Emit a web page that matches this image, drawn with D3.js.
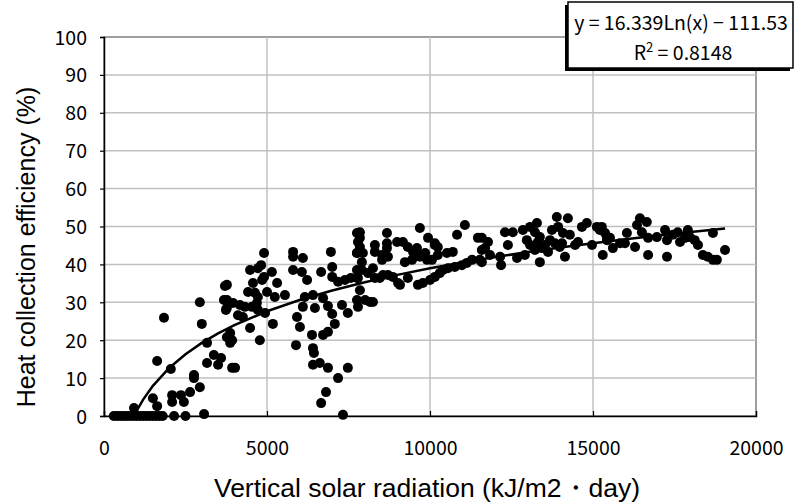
<!DOCTYPE html>
<html>
<head>
<meta charset="utf-8">
<script src="https://d3js.org/d3.v7.min.js"></script>
<style>
  body { margin: 0; background: #fff; }
  .tick-label { font-family: "Noto Sans CJK JP", "Liberation Sans", sans-serif; font-size: 19.5px; fill: #000; }
  .title { font-family: "Liberation Sans", Arial, sans-serif; font-size: 25px; fill: #000; }
  .legend-text { font-family: "Noto Sans CJK JP", "Liberation Sans", sans-serif; font-size: 19.5px; fill: #000; }
</style>
</head>
<body>
<svg id="chart" width="801" height="504"></svg>
<script>
// tick values
const xTicks = [0, 5000, 10000, 15000, 20000];
const yTicks = [0, 10, 20, 30, 40, 50, 60, 70, 80, 90, 100];

// measured points: radiation (kJ/m2·day)
const radiation = [
  300, 400, 500, 600, 700, 800, 900, 1000, 1100, 1200, 1300, 1400, 1500, 1600, 1700, 1800, 2150, 2500, 3070,
  920, 1500, 1630, 1630, 1840, 2050, 2090, 2360, 2090, 2450, 2640, 2760, 2760, 2940, 2940, 3000, 3160, 3160,
  3370, 3590, 3500, 3710, 3680, 3740, 3830, 3870, 3930,
  4020, 3770, 3770, 3770, 3930, 3770, 3870, 3960, 4170, 4320, 4110, 4260, 4480, 4480, 4720, 4820, 4910,
  4570, 4850, 4910, 5150, 4420, 4630, 4720, 5000, 5240, 5310, 5550, 4690, 4720, 4940, 5180, 4780, 4540,
  5800, 5800, 6100, 5800, 6070, 6230, 6660, 6960, 7000, 7000, 5920, 6010, 5890, 6160, 6410, 6470, 6720,
  6100, 6380, 6410, 6440, 6720, 6870, 6410, 6620, 6870, 7180, 6810, 6660, 7330, 7480, 6870, 7000, 7080,
  7300, 7480, 7180, 7390, 7570, 7760, 7790, 7760, 7760, 7760, 7760, 7790,
  7850, 7850, 7850, 7760, 7940, 7910, 7910, 7790, 8100, 8250, 8310, 8460, 7850, 8010, 8160, 8250,
  8310, 8310, 8680, 8680, 8680, 8530, 8530, 8710, 8560, 8710, 8860, 9020, 9080, 9320,
  8990, 9170, 9320, 9480, 9600, 9630, 9230, 9450, 9690, 9850, 9910, 10060, 9690, 9940, 10150, 10240,
  9630, 9780, 10000, 10150, 10300, 10400, 10550, 10760, 10980, 11130, 11290,
  10520, 10700, 10830, 11070, 11470, 11590, 11530, 10150, 10240,
  11590, 11780, 11690, 11590, 11840, 12150, 12180, 12300, 12540, 12390, 12670, 12910, 13370,
  12850, 13070, 13280, 13220, 12970, 13070, 13220, 13430, 13530, 13620, 13680, 13830,
  13740, 13890, 13930, 14230, 14080, 14290, 14050, 14140,
  13980, 14450, 14540, 14660, 14810, 14970, 15120, 15210, 15300, 15430, 13370, 13310,
  15270, 15370, 15430, 15520, 15610, 15830, 15980, 16040, 16290,
  16350, 16440, 16650, 16500, 16690, 16690,
  16960, 17210, 17270, 17270, 17450, 17600, 17670, 17820, 17910, 17970,
  18120, 18220, 18370, 18520, 18680, 18800, 18680, 19050
];
// measured points: efficiency (%)
const efficiency = [
  0, 0, 0, 0, 0, 0, 0, 0, 0, 0, 0, 0, 0, 0, 0, 0, 0, 0, 0.5,
  2.1, 4.7, 2.6, 14.5, 25.9, 12.4, 5.5, 5.5, 3.7, 3.7, 6.3, 10.8, 10, 7.6, 30, 24.3, 19.3, 14,
  16.1, 15.3, 13.5, 34.3, 30.6, 28, 20.8, 19.3, 12.7,
  12.7, 34.6, 30.6, 28.5, 20, 20.8, 21.9, 29.8, 29.3, 28.8, 26.6, 26.1, 23.2, 38.5, 39, 39.8, 43,
  35.1, 35.9, 36.7, 38, 32.7, 32.5, 31.4, 32.7, 31.4, 35.1, 31.9, 29.8, 28, 27.2, 24.3, 20, 28.8,
  43.3, 42, 41.7, 38.5, 38, 35.9, 38, 43.3, 39.3, 36.7, 26.1, 23.5, 18.7, 31.4, 31.9, 28.5, 31.1,
  28.8, 21.4, 17.9, 16.6, 21.4, 22.2, 13.5, 14, 12.7, 10, 6.3, 3.4, 0.3, 12.7, 29, 26.9, 24.3,
  29.3, 27.2, 35.4, 35.9, 36.4, 48.3, 45.9, 43, 38.5, 36.4, 30.6, 28.8,
  48.5, 47, 44.6, 43, 43, 40.6, 38.5, 36.4, 37.7, 39, 36.4, 36.4, 33.2, 30.6, 30.1, 30.1,
  45.1, 43.3, 48.3, 45.6, 44.3, 42.5, 41.2, 42, 37.2, 37.2, 36.7, 35.1, 34.6, 36.4,
  45.9, 45.9, 44.6, 43.3, 44.3, 42.5, 40.6, 41.2, 42, 43, 41.2, 41.2, 49.6, 47, 45.6, 44.6,
  34.6, 35.1, 35.9, 36.7, 37.7, 38.5, 39, 39.3, 39.8, 40.4, 41.2,
  43, 43.3, 47.8, 50.4, 47, 43.8, 41.2, 45.1, 42.5,
  47, 45.9, 44.3, 40.6, 42.5, 42, 39.8, 48.5, 48.5, 45.1, 41.7, 42.5, 40.6,
  49.1, 49.9, 50.9, 48.5, 46.4, 45.1, 43.8, 44.3, 45.1, 43.3, 46.4, 45.6,
  49.1, 52.5, 49.9, 52.2, 48.3, 47.8, 45.6, 42,
  44.6, 45.1, 45.9, 49.9, 50.9, 45.1, 49.9, 49.1, 42.5, 47, 47.2, 45.9,
  49.9, 48.3, 46.4, 47, 44.3, 45.6, 45.6, 48.3, 44.6,
  50.4, 52.2, 51.2, 48.5, 47, 42.5,
  47.2, 49.1, 46.4, 42, 47.8, 48.5, 45.9, 47, 49.1, 47.2,
  46.4, 45.1, 42.5, 42, 41.2, 41.2, 48.3, 43.8
];

// logarithmic trendline, as printed on the chart
const trendA = 16.339, trendB = -111.53;
const trendX = [921, 1000, 1200, 1500, 2000, 2500, 3000, 3500, 4000, 5000, 6000, 7000, 8000, 9000,
  10000, 11000, 12000, 13000, 14000, 15000, 16000, 17000, 18000, 19050];

const svg = d3.select("#chart");
const plotL = 104, plotR = 756, plotT = 37, plotB = 416;

const x = d3.scaleLinear().domain([0, 20000]).range([plotL, plotR]);
const y = d3.scaleLinear().domain([0, 100]).range([plotB, plotT]);

// plot frame + grid
svg.append("rect")
  .attr("x", plotL).attr("y", plotT)
  .attr("width", plotR - plotL).attr("height", plotB - plotT)
  .attr("fill", "#fff").attr("stroke", "#808080").attr("stroke-width", 1.5);

svg.append("g").selectAll("line")
  .data(yTicks.filter(d => d > 0 && d < 100))
  .join("line")
  .attr("x1", plotL).attr("x2", plotR)
  .attr("y1", d => y(d)).attr("y2", d => y(d))
  .attr("stroke", "#c0c0c0").attr("stroke-width", 1.5);

svg.append("g").selectAll("line")
  .data(xTicks.filter(d => d > 0 && d < 20000))
  .join("line")
  .attr("x1", d => x(d)).attr("x2", d => x(d))
  .attr("y1", plotT).attr("y2", plotB)
  .attr("stroke", "#c0c0c0").attr("stroke-width", 1.5);

// axes
const yAxis = svg.append("g")
  .attr("transform", `translate(${plotL},0)`)
  .call(d3.axisLeft(y).tickValues(yTicks).tickSize(4).tickPadding(13));
const xAxis = svg.append("g")
  .attr("transform", `translate(0,${plotB})`)
  .call(d3.axisBottom(x).tickValues(xTicks).tickSize(-5).tickPadding(25).tickFormat(d3.format("d")));

[yAxis, xAxis].forEach(g => {
  g.select(".domain").attr("stroke", "#000").attr("stroke-width", 1.5);
  g.selectAll(".tick line").attr("stroke", "#000").attr("stroke-width", 1.2);
  g.selectAll(".tick text").attr("class", "tick-label").attr("font-family", null).attr("font-size", null);
});
xAxis.selectAll(".tick").filter(d => d === 0 || d === 20000).select("line").remove();
yAxis.selectAll(".tick text").attr("dy", "0.36em");

// points
const points = radiation.map((r, i) => ({ r: r, e: efficiency[i] }));
svg.append("g").selectAll("circle")
  .data(points)
  .join("circle")
  .attr("cx", d => x(d.r))
  .attr("cy", d => y(d.e))
  .attr("r", 5)
  .attr("fill", "#000");

// trendline
svg.append("path")
  .datum(trendX)
  .attr("fill", "none")
  .attr("stroke", "#000")
  .attr("stroke-width", 2.5)
  .attr("d", d3.line().x(d => x(d)).y(d => y(trendA * Math.log(d) + trendB)));

// axis titles
svg.append("text").attr("class", "title")
  .attr("text-anchor", "middle")
  .attr("transform", "translate(35,247) rotate(-90)")
  .text("Heat collection efficiency (%)");

svg.append("text").attr("class", "title")
  .attr("text-anchor", "middle")
  .attr("x", 427).attr("y", 497)
  .style("font-size", "26.5px")
  .text("Vertical solar radiation (kJ/m2・day)");

// equation box
const box = svg.append("g");
box.append("rect").attr("x", 565).attr("y", 5).attr("width", 225).attr("height", 66).attr("fill", "#000");
box.append("rect").attr("x", 568).attr("y", 2).attr("width", 225).attr("height", 66)
  .attr("fill", "#fff").attr("stroke", "#000").attr("stroke-width", 1.5);
box.append("text").attr("class", "legend-text")
  .attr("x", 681).attr("y", 30).attr("text-anchor", "middle")
  .text("y = 16.339Ln(x) − 111.53");
const r2 = box.append("text").attr("class", "legend-text")
  .attr("x", 683).attr("y", 60).attr("text-anchor", "middle");
r2.append("tspan").text("R");
r2.append("tspan").attr("dy", -8).attr("font-size", "13px").text("2");
r2.append("tspan").attr("dy", 8).text(" = 0.8148");
</script>
</body>
</html>
